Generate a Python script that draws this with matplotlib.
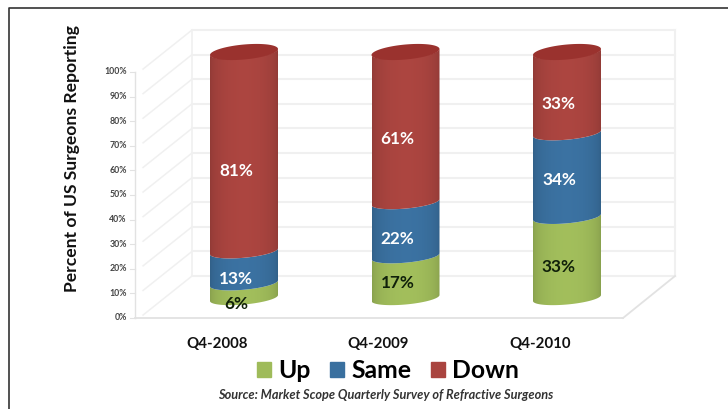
import numpy as np
import matplotlib
matplotlib.use("Agg")
import matplotlib.pyplot as plt
from matplotlib.lines import Line2D
from matplotlib.patches import Patch, PathPatch
from matplotlib.path import Path

plt.rcParams['font.family'] = ['Lato', 'DejaVu Sans']

quarters = ['Q4-2008', 'Q4-2009', 'Q4-2010']
up = [6, 17, 33]
same = [13, 22, 34]
down = [81, 61, 33]
y_ticks = [0, 10, 20, 30, 40, 50, 60, 70, 80, 90, 100]

RED = '#A9443F'
BLUE = '#3A709F'
GREEN = '#9FBB5A'

W, H = 728, 409
# one category is 161.5 px wide, one percent is 2.46 px tall
PX_X = 161.5
PX_Y = 2.46
# depth of the fake 3d box, in percent units from the cylinder plane
FRONT = -8.13
BACK = 8.94
X_FRONT = (-0.675, 2.347)
X_BACK = (-0.322, 2.669)

# hand placement of the value labels, px downwards
nudge_up = [6, -1, 3]
nudge_same = [5, 3, -2]
nudge_down = [12, 5, 5]

fig = plt.figure(figsize=(W / 100, H / 100), dpi=100, facecolor='white')
ax = fig.add_axes([0, 0, 1, 1])
ax.set_xlim(-244 / PX_X, (W - 244) / PX_X)
ax.set_ylim((298 - H) / PX_Y, 298 / PX_Y)
ax.axis('off')

# back wall, side wall and floor
GRID = '#F0F0F0'
for v in y_ticks:
    ax.plot(X_BACK, [v + BACK] * 2, color=GRID, lw=1.5, zorder=1)
    ax.plot([X_FRONT[0] + 0.05, X_BACK[0]], [v + FRONT + 1.2, v + BACK], color=GRID, lw=1.1, zorder=1)
ax.plot([X_BACK[0]] * 2, [BACK, 100 + BACK], color=GRID, lw=1.2, zorder=1)
ax.plot([X_BACK[1]] * 2, [BACK, 100 + BACK], color=GRID, lw=1.5, zorder=1)
ax.plot([X_FRONT[0]] * 2, [FRONT, 100 + FRONT], color='#E2E2E2', lw=1.0, zorder=1)
ax.plot(X_FRONT, [FRONT, FRONT], color='#E2E2E2', lw=1.3, zorder=1)
ax.plot([X_FRONT[1], X_BACK[1]], [FRONT, BACK], color='#E2E2E2', lw=1.3, zorder=1)

for v in y_ticks:
    ax.text(X_FRONT[0] - 0.05, v + FRONT, f'{v}%', ha='right', va='center',
            fontsize=6.3, fontweight='bold', color='#444444')
    ax.plot([X_FRONT[0] - 0.03, X_FRONT[0]], [v + FRONT] * 2, color='#E2E2E2', lw=0.8, zorder=1)


def ellipse_arc(c, v, t, b=6.5):
    # tilted ellipse that closes the cylinder at level v
    x = c + 34 * np.cos(t) / PX_X
    y = v + (b * np.sin(t) + 3 * np.cos(t)) / PX_Y
    return np.column_stack([x, y])


def shade(color):
    rgb = np.array(matplotlib.colors.to_rgb(color))
    u = np.linspace(-1, 1, 80)
    k = 0.84 + 0.18 * np.sqrt(1 - u ** 2 * 0.98)
    return np.clip(rgb[None, None, :] * k[None, :, None], 0, 1)


def draw_segment(c, v0, v1, color):
    t = np.linspace(np.pi, 2 * np.pi, 50)
    verts = np.vstack([ellipse_arc(c, v0, t), ellipse_arc(c, v1, t)[::-1]])
    clip = PathPatch(Path(np.vstack([verts, verts[:1]]), closed=True), fc='none', ec='none',
                     transform=ax.transData)
    ax.add_patch(clip)
    x0, x1 = c - 34 / PX_X, c + 34 / PX_X
    im = ax.imshow(shade(color), extent=[x0, x1, v0 - 5, v1 + 5], aspect='auto', zorder=3)
    im.set_clip_path(clip)


series = [(up, GREEN, '#10200A', nudge_up), (same, BLUE, 'white', nudge_same), (down, RED, 'white', nudge_down)]
for i in range(len(quarters)):
    base = 0
    for vals, color, txt, nudge in series:
        draw_segment(i, base, base + vals[i], color)
        ax.text(i - 0.05, base + vals[i] / 2 - 2.8 - nudge[i] / PX_Y, f'{vals[i]}%', ha='center', va='center',
                fontsize=12.3, fontweight='bold', color=txt, zorder=5)
        base += vals[i]
    # cap of the cylinder
    t = np.linspace(0, 2 * np.pi, 100)
    cap = ellipse_arc(i, base, t, b=7.5)
    ax.fill(cap[:, 0], cap[:, 1], color='#9A322E', lw=0, zorder=4)
    ax.text(i - 0.167, -18.9, quarters[i], ha='center', va='center', fontsize=10.8,
            fontweight='bold', color='#111111')

ax.set_xlim(-244 / PX_X, (W - 244) / PX_X)
ax.set_ylim((298 - H) / PX_Y, 298 / PX_Y)

fig.text(72 / W, 1 - 159 / H, 'Percent of US Surgeons Reporting', rotation=90, ha='center', va='center',
         fontsize=12.6, fontweight='bold', color='#111111')
fig.text(386 / W, 1 - 395 / H, 'Source: Market Scope Quarterly Survey of Refractive Surgeons',
         ha='center', va='center', fontsize=9.2, fontweight='bold', style='italic', color='#333333')

handles = [Patch(color=GREEN, label='Up'), Patch(color=BLUE, label='Same'), Patch(color=RED, label='Down')]
fig.legend(handles=handles, ncol=3, loc='center', bbox_to_anchor=(388 / W, 1 - 371 / H), frameon=False,
           prop={'size': 17.8, 'weight': 'bold'}, handlelength=0.55, handleheight=0.55,
           handletextpad=0.3, columnspacing=0.8)

# page rule around the figure, open at the right and bottom
fig.add_artist(Line2D([8.5 / W, 8.5 / W, 1], [0, 1 - 7.5 / H, 1 - 7.5 / H], color='#333333', lw=1.2))

fig.savefig('out.png', dpi=100)
